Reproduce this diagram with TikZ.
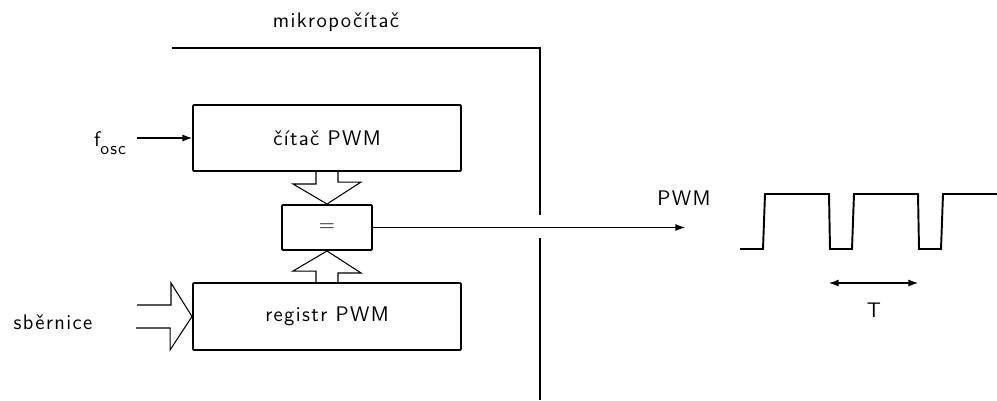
\documentclass[tikz,border=0pt]{standalone}
\usepackage{fontspec}
\setsansfont{Latin Modern Sans}[LetterSpace=6.5]
\usetikzlibrary{arrows.meta,calc}
\begin{document}
\begin{tikzpicture}[x=0.02cm,y=-0.02cm,
  font=\sffamily\fontsize{12}{14}\selectfont,
  block/.style={draw,line width=1.1pt,rounded corners=0.6pt,inner sep=0pt},
  thin/.style={line width=0.6pt},
  hollow/.style={draw,line width=0.6pt,line join=miter},
  tip/.style={-{Latex[length=5.5pt,width=4pt]}},
  bitip/.style={{Latex[length=5.5pt,width=4pt]}-{Latex[length=5.5pt,width=4pt]}},
  label/.style={inner sep=0pt}]
\useasboundingbox (0,0) rectangle (997,400);

% microcomputer boundary
\node[label] (mcu) at (336,22) {mikropočítač};
\draw[line width=1.1pt] (172,48) -- (540,48) -- (540,215);
\draw[line width=1.1pt] (540,238) -- (540,400);

% blocks
\node[block,minimum width=268*0.02cm,minimum height=66*0.02cm] (cnt) at (327,138) {čítač PWM};
\node[block,minimum width=90*0.02cm,minimum height=45*0.02cm] (eq) at (327,227.5) {$=$};
\node[block,minimum width=268*0.02cm,minimum height=67*0.02cm] (reg) at (327,316.5) {registr PWM};

% clock input
\node[label] (fosc) at (110,143) {f\raisebox{-4.5pt}{\fontsize{10}{11}\selectfont osc}};
\coordinate (fin) at (137,138);
\draw[thin,tip] (fin) -- (cnt.west);

% wide arrow: counter -> comparator
\draw[hollow] ($(cnt.south)+(-11,0)$) -- ++(0,12) -- ++(-23,0) -- (eq.north)
  -- ++(34,-22) -- ++(-23,0) -- ++(0,-12);
% wide arrow: register -> comparator
\draw[hollow] ($(reg.north)+(-11,0)$) -- ++(0,-11) -- ++(-23,0) -- (eq.south)
  -- ++(34,22) -- ++(-23,0) -- ++(0,11);
% wide arrow: bus -> register
\node[label] (bus) at (53,322) {sběrnice};
\coordinate (busin) at (137,316.5);
\draw[hollow] ($(busin)+(0,-11.5)$) -- ++(34,0) -- ++(0,-22) -- (reg.west)
  -- ++(-22,33.5) -- ++(0,-22) -- ++(-34,0);

% PWM output
\coordinate (out) at (685,227.5);
\draw[thin,tip] (eq.east) -- (out);
\node[label] (pwm) at (684,198) {PWM};

% output waveform
\draw[line width=1.1pt,line join=miter]
  (740,249) -- (763,249) -- (765,194) -- (829,194) -- (830,249) -- (852,249)
  -- (854,194) -- (918,194) -- (919,249) -- (941,249) -- (943,194) -- (997,194);

% period
\coordinate (ta) at (829,283);
\coordinate (tb) at (918,283);
\draw[thin,bitip] (ta) -- (tb);
\node[label] (T) at (874,310) {T};
\end{tikzpicture}
\end{document}
